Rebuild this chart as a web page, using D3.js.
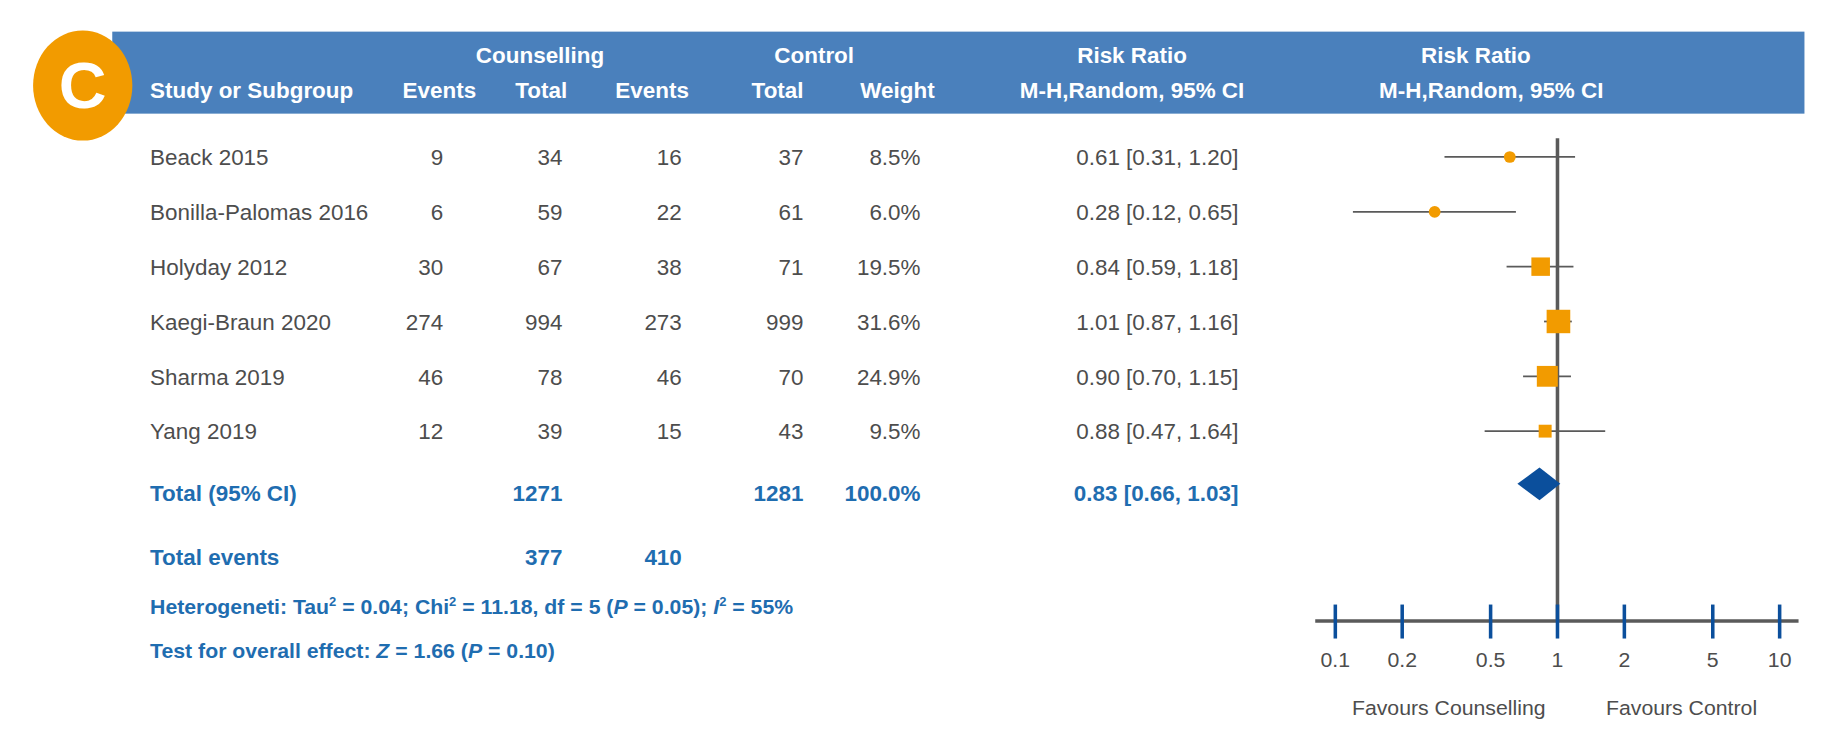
<!DOCTYPE html>
<html><head><meta charset="utf-8">
<script src="https://cdn.jsdelivr.net/npm/d3@7"></script>
<style>
body{margin:0;background:#fff}
text{font-family:"Liberation Sans",Arial,sans-serif}
</style></head>
<body>
<svg id="chart" width="1847" height="751" viewBox="0 0 1563 641" preserveAspectRatio="none"></svg>
<script>
var studies=["Beack 2015","Bonilla-Palomas 2016","Holyday 2012","Kaegi-Braun 2020","Sharma 2019","Yang 2019"];
var evCouns=[9,6,30,274,46,12];
var totCouns=[34,59,67,994,78,39];
var evCtrl=[16,22,38,273,46,15];
var totCtrl=[37,61,71,999,70,43];
var weights=[8.5,6.0,19.5,31.6,24.9,9.5];
var rr=[0.61,0.28,0.84,1.01,0.90,0.88];
var lo=[0.31,0.12,0.59,0.87,0.70,0.47];
var hi=[1.20,0.65,1.18,1.16,1.15,1.64];
var pooled=[0.83,0.66,1.03];
var ticks=[0.1,0.2,0.5,1,2,5,10];

var svg=d3.select("#chart");
var gray="#4d4d4d",blue="#1f6db0",dark="#0b4f9c",orange="#f29b00";

var x=d3.scaleLog().domain([0.1,10]).range([1130,1506]);
var y=d3.scalePoint().domain(studies).range([134,368]);

// header
svg.append("rect").attr("x",95).attr("y",27).attr("width",1432).attr("height",70).attr("fill","#4a80bc");
svg.append("ellipse").attr("cx",70).attr("cy",73).attr("rx",42).attr("ry",47).attr("fill",orange);
svg.append("text").attr("x",70).attr("y",92).attr("text-anchor","middle").attr("font-size",56).attr("font-weight","bold").attr("fill","#fff").text("C");
var h1=[["Counselling",457],["Control",689],["Risk Ratio",958],["Risk Ratio",1249]];
h1.forEach(function(d){svg.append("text").attr("x",d[1]).attr("y",54).attr("text-anchor","middle").attr("font-size",19).attr("font-weight","bold").attr("fill","#fff").text(d[0]);});
var h2=[["Study or Subgroup",127,"start"],["Events",403,"end"],["Total",480,"end"],["Events",583,"end"],["Total",680,"end"],["Weight",791,"end"],["M-H,Random, 95% CI",958,"middle"],["M-H,Random, 95% CI",1262,"middle"]];
h2.forEach(function(d){svg.append("text").attr("x",d[1]).attr("y",84).attr("text-anchor",d[2]).attr("font-size",19).attr("font-weight","bold").attr("fill","#fff").text(d[0]);});

// rows
var cols=[[evCouns,375],[totCouns,476],[evCtrl,577],[totCtrl,680]];
studies.forEach(function(s,i){
  var ty=y(s)+7;
  svg.append("text").attr("x",127).attr("y",ty).attr("font-size",19).attr("fill",gray).text(s);
  cols.forEach(function(c){svg.append("text").attr("x",c[1]).attr("y",ty).attr("text-anchor","end").attr("font-size",19).attr("fill",gray).text(c[0][i]);});
  svg.append("text").attr("x",779).attr("y",ty).attr("text-anchor","end").attr("font-size",19).attr("fill",gray).text(weights[i].toFixed(1)+"%");
  svg.append("text").attr("x",1048).attr("y",ty).attr("text-anchor","end").attr("font-size",19).attr("fill",gray)
    .text(rr[i].toFixed(2)+" ["+lo[i].toFixed(2)+", "+hi[i].toFixed(2)+"]");
});

// totals
var sum=function(a){return d3.sum(a);};
function btext(t,xx,yy,anchor){svg.append("text").attr("x",xx).attr("y",yy).attr("text-anchor",anchor||"end").attr("font-size",19).attr("font-weight","bold").attr("fill",blue).text(t);}
btext("Total (95% CI)",127,428,"start");
btext(sum(totCouns),476,428);
btext(sum(totCtrl),680,428);
btext("100.0%",779,428);
btext(pooled[0].toFixed(2)+" ["+pooled[1].toFixed(2)+", "+pooled[2].toFixed(2)+"]",1048,428);
btext("Total events",127,482,"start");
btext(sum(evCouns),476,482);
btext(sum(evCtrl),577,482);

var het=svg.append("text").attr("x",127).attr("y",524).attr("font-size",18).attr("font-weight","bold").attr("fill",blue);
het.append("tspan").text("Heterogeneti: Tau");
het.append("tspan").attr("font-size",11).attr("dy",-7).text("2");
het.append("tspan").attr("dy",7).text(" = 0.04; Chi");
het.append("tspan").attr("font-size",11).attr("dy",-7).text("2");
het.append("tspan").attr("dy",7).text(" = 11.18, df = 5 (");
het.append("tspan").attr("font-style","italic").text("P");
het.append("tspan").text(" = 0.05); ");
het.append("tspan").attr("font-style","italic").text("I");
het.append("tspan").attr("font-size",11).attr("dy",-7).text("2");
het.append("tspan").attr("dy",7).text(" = 55%");
var te=svg.append("text").attr("x",127).attr("y",562).attr("font-size",18).attr("font-weight","bold").attr("fill",blue);
te.append("tspan").text("Test for overall effect: ");
te.append("tspan").attr("font-style","italic").text("Z");
te.append("tspan").text(" = 1.66 (");
te.append("tspan").attr("font-style","italic").text("P");
te.append("tspan").text(" = 0.10)");

// forest plot
svg.append("line").attr("x1",x(1)).attr("x2",x(1)).attr("y1",118).attr("y2",530).attr("stroke","#5a5a5a").attr("stroke-width",3);
svg.append("line").attr("x1",1113).attr("x2",1522).attr("y1",530).attr("y2",530).attr("stroke","#5a5a5a").attr("stroke-width",3);
ticks.forEach(function(t){
  svg.append("line").attr("x1",x(t)).attr("x2",x(t)).attr("y1",516).attr("y2",545).attr("stroke",dark).attr("stroke-width",3);
  svg.append("text").attr("x",x(t)).attr("y",569).attr("text-anchor","middle").attr("font-size",18).attr("fill",gray).text(t);
});
svg.append("text").attr("x",1226).attr("y",610).attr("text-anchor","middle").attr("font-size",18).attr("fill",gray).text("Favours Counselling");
svg.append("text").attr("x",1423).attr("y",610).attr("text-anchor","middle").attr("font-size",18).attr("fill",gray).text("Favours Control");

var sz=d3.scaleSqrt().domain([0,31.6]).range([0,20]);
studies.forEach(function(s,i){
  var cy=y(s);
  svg.append("line").attr("x1",x(lo[i])).attr("x2",x(hi[i])).attr("y1",cy).attr("y2",cy).attr("stroke","#5a5a5a").attr("stroke-width",1.5);
  if(weights[i]<9){
    svg.append("circle").attr("cx",x(rr[i])).attr("cy",cy).attr("r",5).attr("fill",orange);
  } else {
    var w=sz(weights[i]);
    svg.append("rect").attr("x",x(rr[i])-w/2).attr("y",cy-w/2).attr("width",w).attr("height",w).attr("fill",orange);
  }
});
var dy=413;
svg.append("path").attr("d","M"+x(pooled[1])+","+dy+"L"+x(pooled[0])+","+(dy-14)+"L"+x(pooled[2])+","+dy+"L"+x(pooled[0])+","+(dy+14)+"Z").attr("fill",dark);
</script>
</body></html>
